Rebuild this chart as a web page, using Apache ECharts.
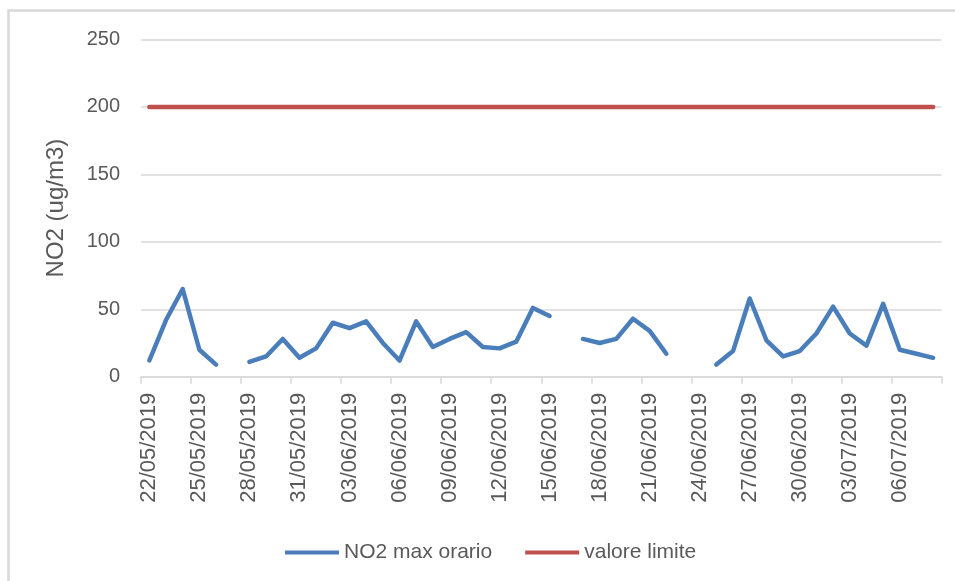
<!DOCTYPE html>
<html>
<head>
<meta charset="utf-8">
<script src="https://cdn.jsdelivr.net/npm/echarts@6/dist/echarts.min.js"></script>
<style>html,body{margin:0;padding:0;background:#fff;}#c{width:955px;height:581px;}</style>
</head>
<body>
<div id="c"></div>
<script>
const categories = [
  '22/05/2019','23/05/2019','24/05/2019','25/05/2019','26/05/2019','27/05/2019',
  '28/05/2019','29/05/2019','30/05/2019','31/05/2019','01/06/2019','02/06/2019',
  '03/06/2019','04/06/2019','05/06/2019','06/06/2019','07/06/2019','08/06/2019',
  '09/06/2019','10/06/2019','11/06/2019','12/06/2019','13/06/2019','14/06/2019',
  '15/06/2019','16/06/2019','17/06/2019','18/06/2019','19/06/2019','20/06/2019',
  '21/06/2019','22/06/2019','23/06/2019','24/06/2019','25/06/2019','26/06/2019',
  '27/06/2019','28/06/2019','29/06/2019','30/06/2019','01/07/2019','02/07/2019',
  '03/07/2019','04/07/2019','05/07/2019','06/07/2019','07/07/2019','08/07/2019'
];
const no2MaxOrario = [
  12, 42, 65, 20, 9, null,
  11, 15, 28, 14, 21, 40,
  36, 41, 25, 12, 41, 22,
  28, 33, 22, 21, 26, 51,
  45, null, 28, 25, 28, 43,
  34, 17, null, null, 9, 19,
  58, 27, 15, 19, 32, 52,
  32, 23, 54, 20, 17, 14
];
const valoreLimite = [
  200, 200, 200, 200, 200, 200, 200, 200, 200, 200, 200, 200,
  200, 200, 200, 200, 200, 200, 200, 200, 200, 200, 200, 200,
  200, 200, 200, 200, 200, 200, 200, 200, 200, 200, 200, 200,
  200, 200, 200, 200, 200, 200, 200, 200, 200, 200, 200, 200
];
const seriesNames = ['NO2 max orario', 'valore limite'];
const yAxisTitle = 'NO2 (ug/m3)';

const FONT = '"Liberation Sans", Arial, sans-serif';
const chart = echarts.init(document.getElementById('c'), null, {renderer: 'canvas'});
chart.setOption({
  animation: false,
  backgroundColor: '#ffffff',
  graphic: [{
    type: 'rect', silent: true, z: -10,
    shape: {x: 8.5, y: 10.5, width: 980, height: 620},
    style: {fill: 'none', stroke: '#d9d9d9', lineWidth: 2.5}
  }],
  grid: {left: 141, right: 13.5, top: 39.5, bottom: 204.3, containLabel: false},
  legend: {
    left: 280, top: 537,
    itemWidth: 54, itemHeight: 4, itemGap: 33, icon: 'rect',
    textStyle: {fontFamily: FONT, fontSize: 21, color: '#595959'},
    data: seriesNames
  },
  xAxis: {
    type: 'category',
    data: categories,
    boundaryGap: true,
    axisLine: {show: true, lineStyle: {color: '#d9d9d9', width: 1.5}},
    axisTick: {show: true, interval: 2, length: 7, lineStyle: {color: '#d9d9d9', width: 1.5}},
    axisLabel: {
      interval: 2, rotate: 90, margin: 16,
      fontFamily: FONT, fontSize: 22, color: '#595959'
    },
    splitLine: {show: false}
  },
  yAxis: {
    type: 'value',
    min: 0, max: 250, interval: 50,
    name: yAxisTitle,
    nameLocation: 'middle',
    nameGap: 73,
    nameRotate: 90,
    nameTextStyle: {fontFamily: FONT, fontSize: 24, color: '#595959'},
    axisLine: {show: false},
    axisTick: {show: false},
    axisLabel: {margin: 21, fontFamily: FONT, fontSize: 20, color: '#595959'},
    splitLine: {show: true, lineStyle: {color: '#d9d9d9', width: 1.5}}
  },
  series: [
    {
      name: seriesNames[0], type: 'line', data: no2MaxOrario,
      showSymbol: false, symbol: 'none', connectNulls: false,
      lineStyle: {color: '#4a7ebb', width: 4.5, cap: 'round', join: 'round'},
      itemStyle: {color: '#4a7ebb'}
    },
    {
      name: seriesNames[1], type: 'line', data: valoreLimite,
      showSymbol: false, symbol: 'none',
      lineStyle: {color: '#c0504d', width: 4.5, cap: 'round'},
      itemStyle: {color: '#c0504d'}
    }
  ]
});
</script>
</body>
</html>
